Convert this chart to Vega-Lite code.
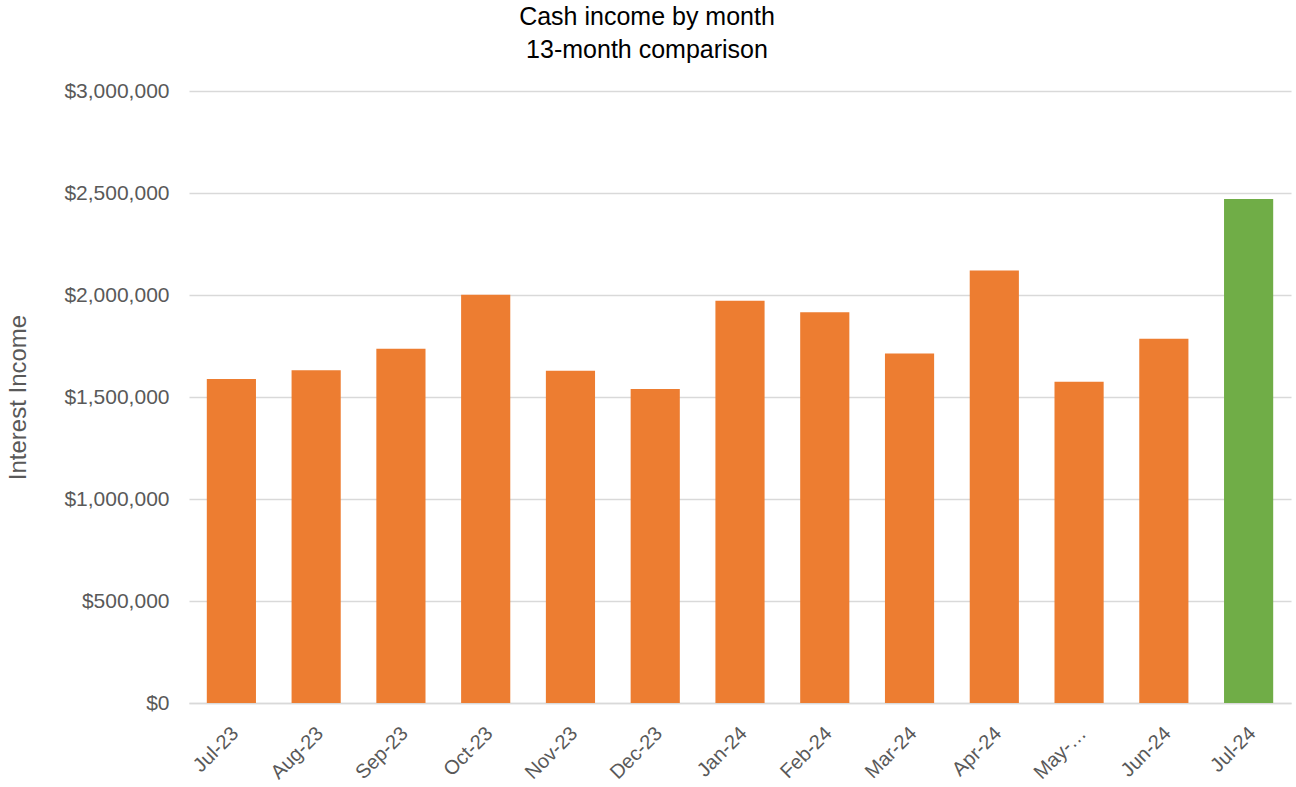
{
  "$schema": "https://vega.github.io/schema/vega-lite/v6.json",
  "width": 1102,
  "height": 612,
  "autosize": "none",
  "padding": {"left": 189, "top": 91, "right": 5, "bottom": 84},
  "background": "white",
  "title": {
    "text": ["Cash income by month", "13-month comparison"],
    "font": "Liberation Sans",
    "fontSize": 25,
    "fontWeight": "normal",
    "color": "#000000",
    "anchor": "middle",
    "dx": -93,
    "offset": 17,
    "lineHeight": 33
  },
  "data": {
    "values": [
      {"month": "Jul-23", "income": 1588000, "current": "no"},
      {"month": "Aug-23", "income": 1631000, "current": "no"},
      {"month": "Sep-23", "income": 1737000, "current": "no"},
      {"month": "Oct-23", "income": 2001000, "current": "no"},
      {"month": "Nov-23", "income": 1629000, "current": "no"},
      {"month": "Dec-23", "income": 1539000, "current": "no"},
      {"month": "Jan-24", "income": 1972000, "current": "no"},
      {"month": "Feb-24", "income": 1915000, "current": "no"},
      {"month": "Mar-24", "income": 1713000, "current": "no"},
      {"month": "Apr-24", "income": 2120000, "current": "no"},
      {"month": "May-24", "income": 1575000, "current": "no"},
      {"month": "Jun-24", "income": 1785000, "current": "no"},
      {"month": "Jul-24", "income": 2470000, "current": "yes"}
    ]
  },
  "mark": {"type": "bar"},
  "encoding": {
    "x": {
      "field": "month",
      "type": "nominal",
      "sort": null,
      "scale": {"paddingInner": 0.42, "paddingOuter": 0.21},
      "axis": {
        "title": null,
        "labelAngle": -45,
        "labelAlign": "right",
        "labelBaseline": "middle",
        "labelFont": "Liberation Sans",
        "labelFontSize": 20,
        "labelColor": "#595959",
        "labelPadding": 27,
        "labelOffset": 4,
        "labelExpr": "datum.label == 'May-24' ? 'May-…' : datum.label",
        "ticks": false,
        "domain": true,
        "domainColor": "#D9D9D9",
        "domainWidth": 1.5
      }
    },
    "y": {
      "field": "income",
      "type": "quantitative",
      "scale": {"domain": [0, 3000000]},
      "axis": {
        "title": "Interest Income",
        "titleFont": "Liberation Sans",
        "titleFontSize": 24,
        "titleFontWeight": "normal",
        "titleColor": "#595959",
        "titlePadding": 33,
        "values": [0, 500000, 1000000, 1500000, 2000000, 2500000, 3000000],
        "format": "$,.0f",
        "labelFont": "Liberation Sans",
        "labelFontSize": 21,
        "labelColor": "#595959",
        "labelPadding": 20,
        "ticks": false,
        "domain": false,
        "grid": true,
        "gridColor": "#D9D9D9",
        "gridWidth": 1.5
      }
    },
    "color": {
      "field": "current",
      "type": "nominal",
      "scale": {"domain": ["no", "yes"], "range": ["#ED7D31", "#70AD47"]},
      "legend": null
    }
  },
  "config": {"view": {"stroke": null}}
}
